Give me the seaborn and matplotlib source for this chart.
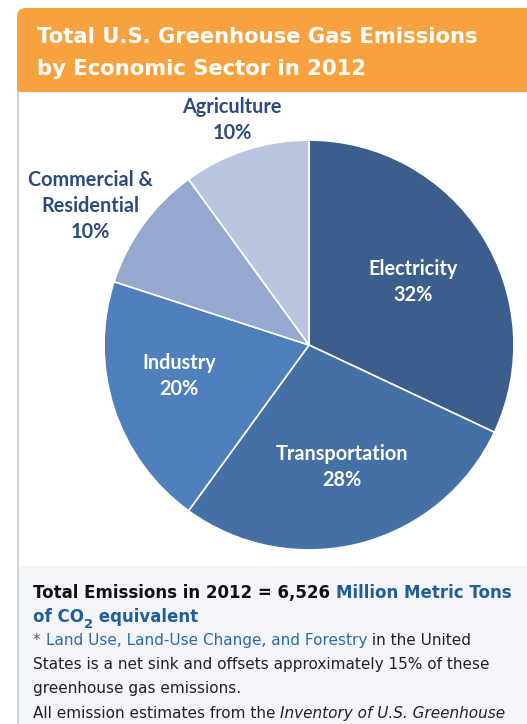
import seaborn as sns
import matplotlib.pyplot as plt
from matplotlib.patches import FancyBboxPatch, Rectangle
from matplotlib.lines import Line2D

sectors = ['Electricity', 'Transportation', 'Industry', 'Commercial &\nResidential', 'Agriculture']
shares = [32, 28, 20, 10, 10]
colors = ['#3b5e8c', '#4470a6', '#4f7fbd', '#95a8cf', '#b9c5de']

sns.set_theme(style='white')
plt.rcParams['font.family'] = ['DejaVu Sans']

W, H = 527, 724
fig = plt.figure(figsize=(W / 100, H / 100), dpi=100)
fig.patch.set_facecolor('white')


def fx(px):
    return px / W


def fy(py):
    return 1 - py / H


# panel background pieces
bg = fig.add_axes([0, 0, 1, 1])
bg.set_xlim(0, W)
bg.set_ylim(H, 0)
bg.axis('off')
bg.add_patch(Rectangle((17, 566), 520, 170, facecolor='#f3f5f8', edgecolor='none'))
bg.add_patch(FancyBboxPatch((17, 8), 530, 84, boxstyle='round,pad=0,rounding_size=9',
                            facecolor='#f8a23f', edgecolor='none'))
bg.add_patch(Rectangle((17, 40), 530, 52, facecolor='#f8a23f', edgecolor='none'))
bg.add_line(Line2D([17.5, 17.5], [92, H], color='#d0d3d8', lw=1.5))

fig.text(fx(37), fy(37), 'Total U.S. Greenhouse Gas Emissions', color='white',
         fontsize=15.2, fontweight='bold', va='center', ha='left')
fig.text(fx(37), fy(69), 'by Economic Sector in 2012', color='white',
         fontsize=15.2, fontweight='bold', va='center', ha='left')

# pie
ax = fig.add_axes([fx(102), fy(552), 414 / W, 414 / H])
ax.pie(shares, colors=colors, startangle=90, counterclock=False, radius=1,
       wedgeprops=dict(edgecolor='white', linewidth=1.2))
ax.set_xlim(-1.01, 1.01)
ax.set_ylim(-1.01, 1.01)
ax.set_aspect('equal')

lab_font = ['Lato', 'DejaVu Sans']
navy = '#2c4b7c'
inside = [('Electricity\n32%', 413, 282), ('Transportation\n28%', 342, 467), ('Industry\n20%', 179, 376)]
for txt, x, y in inside:
    fig.text(fx(x), fy(y), txt, color='white', family=lab_font, fontweight='bold',
             fontsize=14.3, ha='center', va='center', linespacing=1.4)
fig.text(fx(232), fy(120), 'Agriculture\n10%', color=navy, family=lab_font, fontweight='bold',
         fontsize=14.3, ha='center', va='center', linespacing=1.4)
fig.text(fx(90), fy(206), 'Commercial &\nResidential\n10%', color=navy, family=lab_font,
         fontweight='bold', fontsize=14.3, ha='center', va='center', linespacing=1.4)

# footnote with mixed colours
renderer = fig.canvas.get_renderer()


def run(pieces, x, y):
    for p in pieces:
        txt, col = p[0], p[1]
        opts = p[2] if len(p) > 2 else {}
        dy = opts.pop('dy', 0)
        t = fig.text(fx(x), fy(y + dy), txt, color=col, ha='left', va='baseline', **opts)
        bb = t.get_window_extent(renderer)
        x += bb.width


dark = '#222222'
blue = '#1f5e96'
link = '#2a6aa8'
bold = dict(fontsize=12, fontweight='bold')
reg = dict(fontsize=11)
run([('Total Emissions in 2012 = 6,526 ', '#111111', dict(bold)),
     ('Million Metric Tons', blue, dict(bold))], 33, 598)
run([('of CO', blue, dict(bold)), ('2', blue, dict(fontsize=9.5, fontweight='bold', dy=6)),
     (' equivalent', blue, dict(bold))], 33, 622)
run([('* ', '#555555', dict(reg)), ('Land Use, Land-Use Change, and Forestry', link, dict(reg)),
     (' in the United', dark, dict(reg))], 33, 645)
run([('States is a net sink and offsets approximately 15% of these', dark, dict(reg))], 33, 669)
run([('greenhouse gas emissions.', dark, dict(reg))], 33, 693)
run([('All emission estimates from the ', dark, dict(reg)),
     ('Inventory of U.S. Greenhouse', dark, dict(reg, style='italic'))], 33, 718)

fig.savefig('out.png', dpi=100)
